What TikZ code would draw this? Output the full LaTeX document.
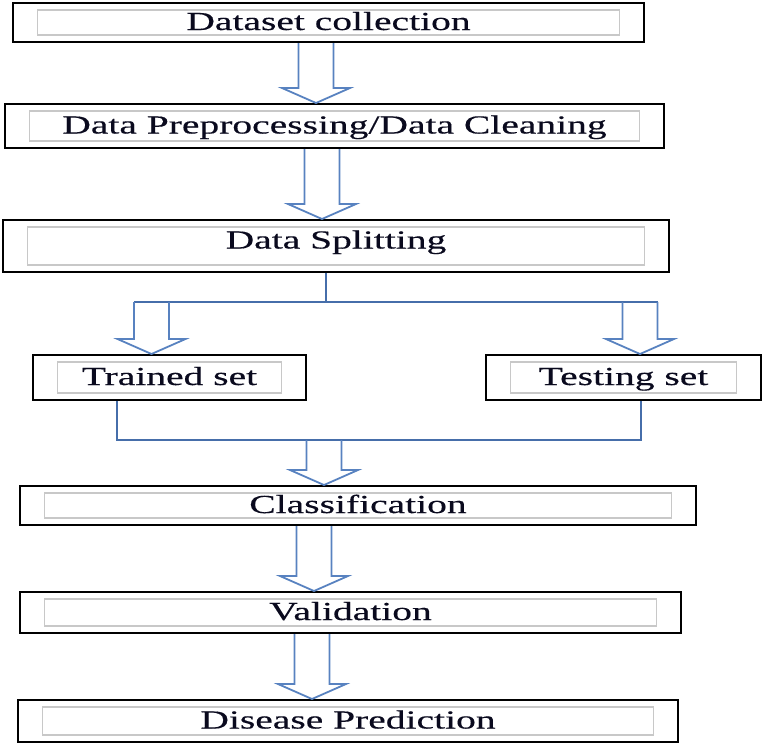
\documentclass[tikz,border=0pt]{standalone}
\usepackage{fontspec}
\usepackage{xcolor}
\usetikzlibrary{calc}
\newfontfamily\flowfont{Liberation Serif}[FakeStretch=1.52, FakeBold=0.4]
\definecolor{textnavy}{RGB}{10,10,30}
\definecolor{arrowblue}{RGB}{88,130,192}
\definecolor{linkblue}{RGB}{70,110,170}
\definecolor{innergrey}{RGB}{200,200,200}
\tikzset{
    stagebox/.style={draw=black, line width=2pt, inner sep=0pt, text=textnavy,
        text height=17pt, text depth=2pt,
        font=\flowfont\fontsize{26pt}{28pt}\selectfont,
        path picture={\draw[innergrey, line width=1.5pt]
            ([xshift=24.5pt,yshift=-7pt]path picture bounding box.north west) rectangle
            ([xshift=-24.5pt,yshift=7pt]path picture bounding box.south east);}},
    flowarrow/.style={draw=arrowblue, line width=1.8pt, line join=miter},
    link/.style={draw=linkblue, line width=1.5pt}
}
% hollow block arrow, open at the top: #1 start (gives x), #2 tip (gives y)
\newcommand{\flowarrow}[2]{%
    \draw[flowarrow] let \p1=#1, \p2=#2 in
        (\x1-17.5pt,\y1) -- (\x1-17.5pt,\y2+15pt) -- (\x1-34pt,\y2+15pt) -- (\x1,\y2)
        -- (\x1+34pt,\y2+15pt) -- (\x1+17.5pt,\y2+15pt) -- (\x1+17.5pt,\y1);}

\begin{document}
\begin{tikzpicture}[x=1pt, y=-1pt]
        \useasboundingbox (0,0) rectangle (762,745);

        \node[stagebox, minimum width=631, minimum height=39] (collect) at (328.5,22.5) {Dataset collection};
        \node[stagebox, minimum width=659, minimum height=44] (prep) at (334.5,126) {Data Preprocessing/Data Cleaning};
        \node[stagebox, minimum width=666, minimum height=52, text depth=12pt] (split) at (336,246) {Data Splitting};
        \node[stagebox, minimum width=273, minimum height=45] (train) at (169.5,377.5) {Trained set};
        \node[stagebox, minimum width=275, minimum height=45] (test) at (623.5,377.5) {Testing set};
        \node[stagebox, minimum width=676, minimum height=39] (classify) at (358,505.5) {Classification};
        \node[stagebox, minimum width=661, minimum height=41] (valid) at (350.5,612.5) {Validation};
        \node[stagebox, minimum width=660, minimum height=42] (predict) at (348,721) {Disease Prediction};

        \flowarrow{([xshift=-12.5pt]collect.south)}{(prep.north)}
        \flowarrow{([xshift=-12.5pt]prep.south)}{(split.north)}

        % split into the two sets
        \coordinate (fork) at (326,302);
        \coordinate (forkL) at (151.5,302);
        \coordinate (forkR) at (640,302);
        \draw[link] (split.south -| fork) -- (fork);
        \draw[link] ([xshift=-17.5pt]forkL) -- ([xshift=17.5pt]forkR);
        \flowarrow{(forkL)}{(train.north)}
        \flowarrow{(forkR)}{(test.north)}

        % join the two sets again
        \coordinate (joinL) at (117,440);
        \coordinate (joinR) at (641,440);
        \coordinate (join) at (324,440);
        \draw[link] (train.south -| joinL) -- (joinL) -- (joinR) -- (test.south -| joinR);
        \flowarrow{(join)}{(classify.north)}

        \flowarrow{([xshift=-44pt]classify.south)}{(valid.north)}
        \flowarrow{([xshift=-38.5pt]valid.south)}{(predict.north)}
    \end{tikzpicture}
\end{document}
